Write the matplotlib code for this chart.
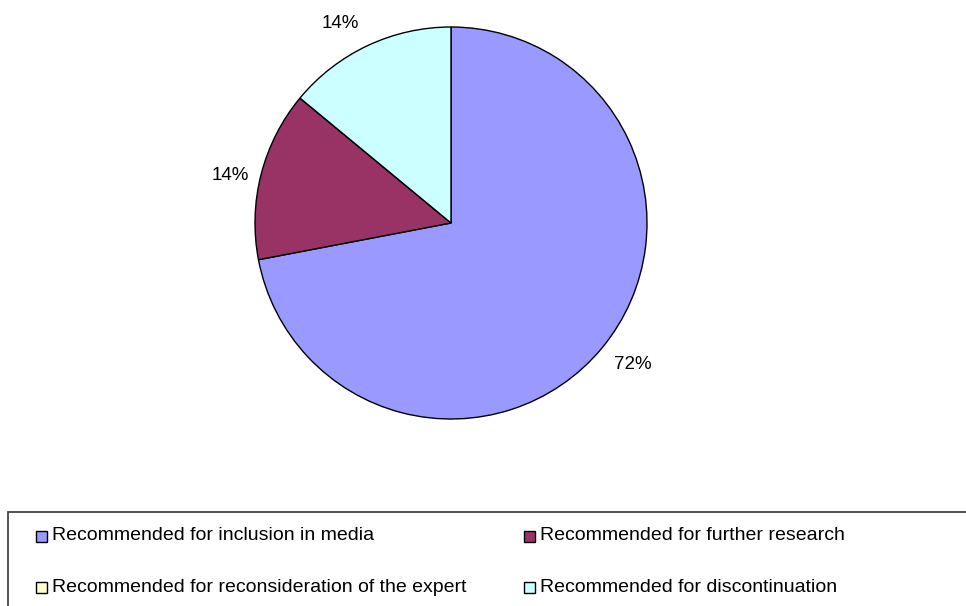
import matplotlib
matplotlib.use("Agg")
import matplotlib.pyplot as plt
from matplotlib.patches import Rectangle

plt.rcParams["font.family"] = ["Liberation Sans", "DejaVu Sans"]

CATEGORIES = [
    "Recommended for inclusion in media",
    "Recommended for further research",
    "Recommended for reconsideration of the expert",
    "Recommended for discontinuation",
]
SHARES = [72, 14, 0, 14]  # percent
COLORS = ["#9999FF", "#993366", "#FFFFCC", "#CCFFFF"]

W, H = 966, 606
fig = plt.figure(figsize=(W / 100, H / 100), dpi=100)

# pie: centre (451, 223) px, radius 196 px
cx, cy, r = 451, 223, 196
ax = fig.add_axes([(cx - r) / W, (H - cy - r) / H, 2 * r / W, 2 * r / H])
labels = [f"{v}%" if v > 0 else "" for v in SHARES]
wedges, texts = ax.pie(SHARES, colors=COLORS, labels=labels, startangle=90,
                       counterclock=False, labeldistance=1.17, radius=1.0,
                       wedgeprops=dict(edgecolor="black", linewidth=1.0),
                       textprops=dict(fontsize=13.5, color="black",
                                      ha="center", va="center"))
# nudge the percentage labels a little (data units, 1 = radius)
nudge = [(0.026, 0.026), (0.005, -0.051), (0.0, 0.0), (-0.066, -0.041)]
for t, (dx, dy) in zip(texts, nudge):
    x, y = t.get_position()
    t.set_position((x + dx, y + dy))
ax.set_xlim(-1, 1); ax.set_ylim(-1, 1)
ax.set_aspect("equal")

# legend box, runs off the right and bottom edges
def px(x, y):
    return x / W, 1 - y / H

x0, y0 = px(8, 512)
fig.patches.append(Rectangle((x0, -0.1), 1.2, y0 + 0.1, transform=fig.transFigure,
                             facecolor="none", edgecolor="#444444", linewidth=1.3))

slots = [(41.5, 536), (529, 536), (41.5, 587), (529, 587)]
ms = 11
for (mx, my), lab, col in zip(slots, CATEGORIES, COLORS):
    bx, by = px(mx - ms / 2, my + ms / 2)
    fig.patches.append(Rectangle((bx, by), ms / W, ms / H, transform=fig.transFigure,
                                 facecolor=col, edgecolor="black", linewidth=1.0))
    tx, ty = px(mx + 10.5, my)
    fig.text(tx, ty, lab, fontsize=14, ha="left", va="center")

fig.savefig("out.png", dpi=100)
